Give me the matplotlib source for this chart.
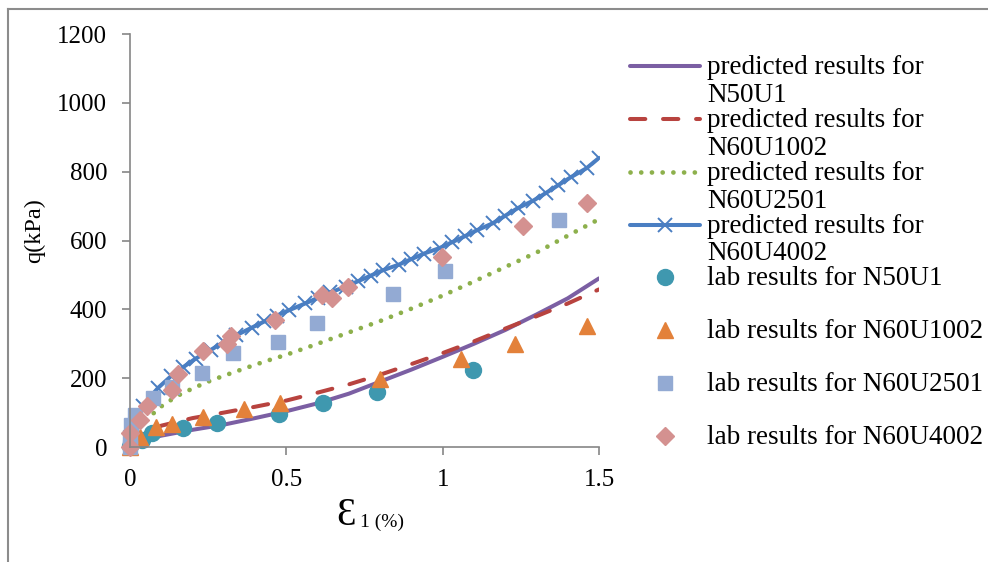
import numpy as np
import matplotlib.pyplot as plt
from matplotlib.legend_handler import HandlerLine2D
from matplotlib.lines import Line2D

plt.rcParams['font.family'] = ['Liberation Serif', 'DejaVu Serif']

# predicted curves
x_n50u1 = [0, 0.02, 0.05, 0.1, 0.2, 0.3, 0.4, 0.5, 0.6, 0.7, 0.8, 0.9, 1.0, 1.1, 1.2, 1.3, 1.4, 1.5]
q_n50u1 = [0, 12, 22, 33, 50, 65, 84, 104, 127, 155, 190, 225, 262, 300, 340, 385, 432, 490]

x_n60u1002 = [0, 0.02, 0.05, 0.1, 0.2, 0.3, 0.4, 0.5, 0.6, 0.7, 0.8, 0.9, 1.0, 1.1, 1.2, 1.3, 1.4, 1.5]
q_n60u1002 = [0, 22, 40, 62, 84, 100, 117, 135, 158, 182, 210, 241, 273, 307, 344, 380, 417, 458]

x_n60u2501 = [0, 0.01, 0.03, 0.05, 0.075, 0.1, 0.15, 0.2, 0.25, 0.3, 0.35, 0.4, 0.45, 0.5,
              0.6, 0.7, 0.8, 0.9, 1.0, 1.1, 1.2, 1.3, 1.4, 1.5]
q_n60u2501 = [0, 35, 65, 80, 98, 118, 148, 170, 190, 207, 223, 239, 254, 268,
              300, 333, 366, 402, 440, 481, 523, 565, 614, 662]

x_n60u4002 = [0, 0.04, 0.09, 0.13, 0.17, 0.21, 0.26, 0.30, 0.34, 0.39, 0.43, 0.47, 0.51, 0.56,
              0.60, 0.64, 0.69, 0.73, 0.77, 0.81, 0.86, 0.90, 0.94, 0.99, 1.03, 1.07, 1.11,
              1.16, 1.20, 1.24, 1.29, 1.33, 1.37, 1.41, 1.46, 1.50]
q_n60u4002 = [0, 120, 172, 205, 232, 257, 283, 305, 325, 347, 365, 382, 398, 417,
              433, 449, 466, 482, 498, 514, 530, 546, 562, 578, 595, 612, 630,
              650, 672, 694, 716, 738, 761, 784, 810, 840]

# lab results
lab_x_n50u1 = [0, 0.037, 0.069, 0.17, 0.277, 0.477, 0.617, 0.79, 1.098]
lab_q_n50u1 = [3, 20, 42, 56, 69, 96, 128, 159, 224]

lab_x_n60u1002 = [0, 0.032, 0.082, 0.135, 0.232, 0.366, 0.48, 0.798, 1.06, 1.231, 1.462]
lab_q_n60u1002 = [0, 30, 59, 67, 88, 110, 127, 197, 256, 299, 352]

lab_x_n60u2501 = [0, 0, 0.003, 0.016, 0.075, 0.133, 0.231, 0.33, 0.474, 0.599, 0.84, 1.007, 1.373]
lab_q_n60u2501 = [0, 30, 65, 93, 141, 175, 214, 272, 306, 361, 444, 512, 661]

lab_x_n60u4002 = [0, 0, 0.032, 0.053, 0.133, 0.152, 0.234, 0.309, 0.323, 0.464, 0.613, 0.645,
                  0.698, 0.999, 1.258, 1.463]
lab_q_n60u4002 = [0, 42, 78, 119, 166, 212, 279, 299, 322, 369, 441, 432,
                  464, 551, 642, 708]


class RaisedLine(HandlerLine2D):
    # put the legend handle next to the first line of a two-line label
    def create_artists(self, legend, orig_handle, xdescent, ydescent, width, height, fontsize, trans):
        artists = super().create_artists(legend, orig_handle, xdescent, ydescent,
                                         width, height, fontsize, trans)
        for a in artists:
            a.set_ydata(np.asarray(a.get_ydata(), dtype=float) + 0.57 * fontsize)
        return artists


fig = plt.figure(figsize=(9.88, 5.62), dpi=100)
ax = fig.add_axes([0.1316, 0.2046, 0.4747, 0.7349])

ax.plot(x_n50u1, q_n50u1, color='#7B5FA3', lw=2.9, solid_capstyle='round',
        label='predicted results for\nN50U1')
ax.plot(x_n60u1002, q_n60u1002, color='#B8433F', lw=2.9, dash_capstyle='round',
        dashes=(3.8, 4.4), label='predicted results for\nN60U1002')
ax.plot(x_n60u2501, q_n60u2501, color='#8DB04C', lw=3.4, dash_capstyle='round',
        dashes=(0.01, 2.26), label='predicted results for\nN60U2501')
ax.plot(x_n60u4002, q_n60u4002, color='#4A7EC2', lw=2.9, marker='x', ms=9.5, mew=1.4,
        solid_capstyle='round', label='predicted results for\nN60U4002')

ax.plot(lab_x_n50u1, lab_q_n50u1, ls='none', marker='o', ms=11.5, color='#3F98AF',
        clip_on=False, label='lab results for N50U1\n ')
ax.plot(lab_x_n60u1002, lab_q_n60u1002, ls='none', marker='^', ms=12, color='#E3813A',
        clip_on=False, label='lab results for N60U1002\n ')
ax.plot(lab_x_n60u2501, lab_q_n60u2501, ls='none', marker='s', ms=10.5, color='#93AAD3',
        clip_on=False, label='lab results for N60U2501\n ')
ax.plot(lab_x_n60u4002, lab_q_n60u4002, ls='none', marker='D', ms=9.2, color='#D49190',
        clip_on=False, label='lab results for N60U4002\n ')

ax.set_xlim(0, 1.5)
ax.set_ylim(0, 1200)
ax.set_xticks([0, 0.5, 1, 1.5])
ax.set_xticklabels(['0', '0.5', '1', '1.5'])
ax.set_yticks(range(0, 1201, 200))

for s in ['top', 'right']:
    ax.spines[s].set_visible(False)
for s in ['left', 'bottom']:
    ax.spines[s].set_color('#868686')
    ax.spines[s].set_linewidth(1.2)
ax.tick_params(axis='both', direction='out', length=5.5, width=1.2, color='#868686',
               labelsize=18, labelcolor='black')
ax.tick_params(axis='y', pad=11)
ax.tick_params(axis='x', pad=10)

ax.set_ylabel('q(kPa)', fontsize=17.5)
ax.yaxis.set_label_coords(-0.181, 0.525)

fig.text(336 / 988, 1 - 525 / 562, 'Ɛ', fontsize=28, ha='left', va='baseline')
fig.text(360 / 988, 1 - 527 / 562, '1 (%)', fontsize=14, ha='left', va='baseline')

leg = ax.legend(loc='upper left', bbox_to_anchor=(630 / 988, 1 - 55 / 562),
                bbox_transform=fig.transFigure, frameon=False, fontsize=19.5,
                handlelength=2.6, handletextpad=0.26, labelspacing=0.0,
                borderpad=0, borderaxespad=0, numpoints=1,
                handler_map={Line2D: RaisedLine()})
for t in leg.get_texts():
    t.set_linespacing(1.15)

# outer frame (only the top and left edges are inside the picture)
fig.add_artist(Line2D([7.5 / 988, 1], [1 - 8.5 / 562, 1 - 8.5 / 562],
                      transform=fig.transFigure, color='#8C8C8C', lw=1.5))
fig.add_artist(Line2D([7.5 / 988, 7.5 / 988], [0, 1 - 8.5 / 562],
                      transform=fig.transFigure, color='#8C8C8C', lw=1.5))

fig.savefig('out.png', dpi=100)
